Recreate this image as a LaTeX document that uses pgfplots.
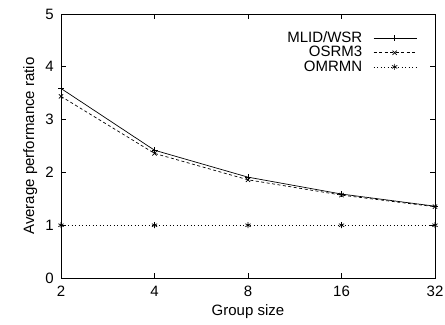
\documentclass[border=0pt]{standalone}
\usepackage{fontspec}
\setmainfont{Liberation Sans}
\usepackage{pgfplots}
\pgfplotsset{compat=1.18}
\begin{document}
\fontsize{15bp}{17bp}\selectfont
\begin{tikzpicture}[x=1bp,y=1bp]
\useasboundingbox (-61,-46) rectangle (384,278);
\begin{axis}[
  at={(0,0)}, anchor=south west,
  scale only axis, width=374bp, height=264bp,
  xmode=log, log basis x=2,
  xmin=2, xmax=32, ymin=0, ymax=5,
  xtick={2,4,8,16,32}, xticklabels={2,4,8,16,32},
  ytick={0,1,2,3,4,5},
  minor tick num=0,
  tick align=inside, major tick length=5bp,
  /pgf/number format/assume math mode=true,
  tick label style={font=\fontsize{15bp}{17bp}\selectfont},
  label style={font=\fontsize{15bp}{17bp}\selectfont},
  xticklabel style={yshift=-3bp},
  yticklabel style={xshift=-2bp},
  xlabel={Group size}, ylabel={Average performance ratio},
  xlabel style={yshift=2bp},
  ylabel style={yshift=-2bp},
  axis line style={line width=0.9bp},
  every tick/.style={line width=0.7bp, black},
  legend plot pos=right,
  legend cell align=right,
  legend style={at={(0.955,0.945)}, anchor=north east, draw=none, fill=none, font=\fontsize{15bp}{17bp}\selectfont, row sep=-2.5bp, inner sep=1bp},
  legend image code/.code={\draw[#1, mark repeat=2, mark phase=2] plot coordinates {(0bp,0bp) (21bp,0bp) (43bp,0bp)};},
]
\addplot[black, line width=0.7bp, mark=+, mark size=3bp, mark options={solid}] coordinates {(2,3.59) (4,2.42) (8,1.91) (16,1.59) (32,1.36)};
\addlegendentry{MLID/WSR\hspace*{9bp}}
\addplot[black, line width=0.7bp, dash pattern=on 3bp off 2.5bp, mark=x, mark size=3bp, mark options={solid}] coordinates {(2,3.44) (4,2.36) (8,1.86) (16,1.57) (32,1.35)};
\addlegendentry{OSRM3\hspace*{9bp}}
\addplot[black, line width=0.7bp, dash pattern=on 1bp off 2.5bp, mark=asterisk, mark size=3bp, mark options={solid}] coordinates {(2,1) (4,1) (8,1) (16,1) (32,1)};
\addlegendentry{OMRMN\hspace*{9bp}}
\end{axis}
\end{tikzpicture}
\end{document}
